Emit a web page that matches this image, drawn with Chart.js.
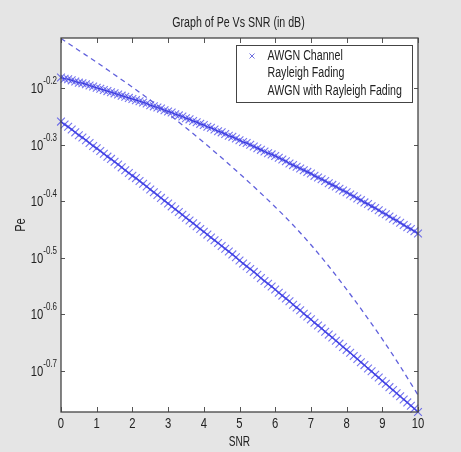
<!DOCTYPE html>
<html>
<head>
<meta charset="utf-8">
<script src="https://cdn.jsdelivr.net/npm/chart.js@4/dist/chart.umd.min.js"></script>
<style>
  html, body { margin: 0; padding: 0; background: #e5e5e5; }
  canvas { display: block; }
</style>
</head>
<body>
<canvas id="chart" width="461" height="452"></canvas>
<script>
// SNR grid of the marker curves (step 0.1)
const snr = [
  0, 0.1, 0.2, 0.3, 0.4, 0.5, 0.6, 0.7, 0.8, 0.9,
  1, 1.1, 1.2, 1.3, 1.4, 1.5, 1.6, 1.7, 1.8, 1.9,
  2, 2.1, 2.2, 2.3, 2.4, 2.5, 2.6, 2.7, 2.8, 2.9,
  3, 3.1, 3.2, 3.3, 3.4, 3.5, 3.6, 3.7, 3.8, 3.9,
  4, 4.1, 4.2, 4.3, 4.4, 4.5, 4.6, 4.7, 4.8, 4.9,
  5, 5.1, 5.2, 5.3, 5.4, 5.5, 5.6, 5.7, 5.8, 5.9,
  6, 6.1, 6.2, 6.3, 6.4, 6.5, 6.6, 6.7, 6.8, 6.9,
  7, 7.1, 7.2, 7.3, 7.4, 7.5, 7.6, 7.7, 7.8, 7.9,
  8, 8.1, 8.2, 8.3, 8.4, 8.5, 8.6, 8.7, 8.8, 8.9,
  9, 9.1, 9.2, 9.3, 9.4, 9.5, 9.6, 9.7, 9.8, 9.9,
  10
];

// log10(Pe), lower marker curve
const awgnExp = [
  -0.259, -0.264, -0.268, -0.273, -0.278, -0.283, -0.287, -0.292, -0.297, -0.302,
  -0.306, -0.311, -0.316, -0.321, -0.325, -0.330, -0.335, -0.340, -0.345, -0.350,
  -0.355, -0.359, -0.364, -0.369, -0.374, -0.379, -0.384, -0.389, -0.394, -0.399,
  -0.404, -0.409, -0.414, -0.419, -0.424, -0.429, -0.434, -0.439, -0.444, -0.449,
  -0.454, -0.459, -0.464, -0.469, -0.474, -0.479, -0.484, -0.489, -0.494, -0.499,
  -0.505, -0.510, -0.515, -0.520, -0.525, -0.530, -0.536, -0.541, -0.546, -0.551,
  -0.556, -0.562, -0.567, -0.572, -0.577, -0.583, -0.588, -0.593, -0.599, -0.604,
  -0.609, -0.615, -0.620, -0.625, -0.631, -0.636, -0.641, -0.647, -0.652, -0.658,
  -0.663, -0.668, -0.674, -0.679, -0.685, -0.690, -0.696, -0.701, -0.707, -0.712,
  -0.718, -0.723, -0.729, -0.734, -0.740, -0.745, -0.751, -0.756, -0.762, -0.767,
  -0.773
];

// log10(Pe), upper marker curve
const awgnRayleighExp = [
  -0.181, -0.183, -0.184, -0.186, -0.188, -0.190, -0.191, -0.193, -0.195, -0.197,
  -0.199, -0.201, -0.203, -0.205, -0.207, -0.209, -0.211, -0.213, -0.215, -0.217,
  -0.219, -0.221, -0.223, -0.225, -0.227, -0.230, -0.232, -0.234, -0.236, -0.239,
  -0.241, -0.243, -0.246, -0.248, -0.250, -0.253, -0.255, -0.258, -0.260, -0.263,
  -0.265, -0.268, -0.270, -0.273, -0.276, -0.278, -0.281, -0.284, -0.286, -0.289,
  -0.292, -0.295, -0.297, -0.300, -0.303, -0.306, -0.309, -0.312, -0.315, -0.317,
  -0.320, -0.323, -0.326, -0.329, -0.333, -0.336, -0.339, -0.342, -0.345, -0.348,
  -0.351, -0.355, -0.358, -0.361, -0.364, -0.368, -0.371, -0.374, -0.378, -0.381,
  -0.384, -0.388, -0.391, -0.395, -0.398, -0.402, -0.405, -0.409, -0.412, -0.416,
  -0.420, -0.423, -0.427, -0.431, -0.434, -0.438, -0.442, -0.446, -0.449, -0.453,
  -0.457
];

// dashed curve, read every 0.5 dB
const snrCoarse = [0, 0.5, 1, 1.5, 2, 2.5, 3, 3.5, 4, 4.5, 5, 5.5, 6, 6.5, 7, 7.5, 8, 8.5, 9, 9.5, 10];
const rayleighExp = [
  -0.112, -0.133, -0.154, -0.176, -0.198, -0.221, -0.245, -0.270, -0.296, -0.323,
  -0.351, -0.380, -0.410, -0.442, -0.477, -0.515, -0.556, -0.599, -0.644, -0.692,
  -0.743
];

const legendLabels = ['AWGN Channel', 'Rayleigh Fading', 'AWGN with Rayleigh Fading'];
const xTicks = [0, 1, 2, 3, 4, 5, 6, 7, 8, 9, 10];
const yTicks = [-0.2, -0.3, -0.4, -0.5, -0.6, -0.7];

const FONT = '"Liberation Sans", Arial, sans-serif';

// narrow text, like the old MATLAB screen fonts
function txt(ctx, s, x, y, size, align, sx, color) {
  ctx.save();
  ctx.font = size + 'px ' + FONT;
  ctx.textBaseline = 'middle';
  ctx.textAlign = 'left';
  ctx.fillStyle = color || '#222';
  const w = ctx.measureText(s).width * sx;
  const x0 = align === 'center' ? x - w / 2 : align === 'right' ? x - w : x;
  ctx.translate(x0, y);
  ctx.scale(sx, 1);
  ctx.fillText(s, 0, 0);
  ctx.restore();
  return w;
}

const pts = (xs, ys) => xs.map((x, i) => ({ x: x, y: ys[i] }));

const frame = {
  id: 'frame',
  beforeDraw(chart) {
    const { ctx, chartArea: a, width, height } = chart;
    ctx.save();
    ctx.fillStyle = '#e5e5e5';
    ctx.fillRect(0, 0, width, height);
    ctx.fillStyle = '#fff';
    ctx.fillRect(a.left, a.top, a.right - a.left, a.bottom - a.top);
    ctx.restore();
  },
  afterDatasetsDraw(chart) {
    const { ctx, chartArea: a, scales } = chart;
    const xs = scales.x, ys = scales.y;
    ctx.save();
    ctx.strokeStyle = '#555';
    ctx.lineWidth = 1;

    // inward ticks on all four sides
    ctx.beginPath();
    xTicks.forEach(t => {
      const px = Math.round(xs.getPixelForValue(t)) + 0.5;
      ctx.moveTo(px, a.bottom); ctx.lineTo(px, a.bottom - 5);
      ctx.moveTo(px, a.top); ctx.lineTo(px, a.top + 5);
    });
    yTicks.forEach(t => {
      const py = Math.round(ys.getPixelForValue(t)) + 0.5;
      ctx.moveTo(a.left, py); ctx.lineTo(a.left + 4, py);
      ctx.moveTo(a.right, py); ctx.lineTo(a.right - 4, py);
    });
    ctx.stroke();

    ctx.strokeStyle = '#444';
    ctx.lineWidth = 1.3;
    ctx.strokeRect(a.left, a.top, a.right - a.left, a.bottom - a.top);

    // tick labels
    xTicks.forEach(t => {
      txt(ctx, String(t), xs.getPixelForValue(t), a.bottom + 12, 15, 'center', 0.75);
    });
    yTicks.forEach(t => {
      const py = ys.getPixelForValue(t);
      const sw = txt(ctx, t.toFixed(1), a.left - 4, py - 7, 10, 'right', 0.8);
      txt(ctx, '10', a.left - 4 - sw, py + 1, 15, 'right', 0.75);
    });

    // titles
    txt(ctx, 'Graph of Pe Vs SNR (in dB)', (a.left + a.right) / 2 - 1, 23, 14, 'center', 0.76);
    txt(ctx, 'SNR', (a.left + a.right) / 2, 442, 14, 'center', 0.72);
    ctx.save();
    ctx.translate(21, (a.top + a.bottom) / 2);
    ctx.rotate(-Math.PI / 2);
    txt(ctx, 'Pe', 0, 0, 14, 'center', 0.8);
    ctx.restore();

    // legend box
    const lx = 236.5, ly = 45.5, lw = 176, lh = 57;
    ctx.fillStyle = '#fff';
    ctx.fillRect(lx, ly, lw, lh);
    ctx.strokeStyle = '#444';
    ctx.lineWidth = 1;
    ctx.strokeRect(lx, ly, lw, lh);
    ctx.strokeStyle = '#7070e0';
    ctx.beginPath();
    ctx.moveTo(249.5, 53.5); ctx.lineTo(254.5, 58.5);
    ctx.moveTo(254.5, 53.5); ctx.lineTo(249.5, 58.5);
    ctx.stroke();
    legendLabels.forEach((s, i) => {
      txt(ctx, s, 267.5, 56 + i * 17.5, 14, 'left', 0.76);
    });
    ctx.restore();
  }
};

const markerSeries = (label, ys) => ({
  label: label,
  data: pts(snr, ys),
  showLine: true,
  borderColor: 'rgba(20,20,205,0.9)',
  borderWidth: 1.2,
  pointStyle: 'crossRot',
  pointRadius: 5.5,
  pointBorderColor: 'rgba(70,70,232,0.75)',
  pointBorderWidth: 1.1,
  tension: 0,
  clip: false
});

new Chart(document.getElementById('chart'), {
  type: 'line',
  data: {
    datasets: [
      markerSeries(legendLabels[0], awgnExp),
      {
        label: legendLabels[1],
        data: pts(snrCoarse, rayleighExp),
        borderColor: '#6060dc',
        borderWidth: 1.3,
        borderDash: [5, 4],
        pointRadius: 0,
        cubicInterpolationMode: 'monotone'
      },
      markerSeries(legendLabels[2], awgnRayleighExp)
    ]
  },
  options: {
    responsive: false,
    animation: false,
    events: [],
    layout: { padding: { left: 61, top: 38, right: 43, bottom: 40 } },
    plugins: {
      legend: { display: false },
      title: { display: false },
      tooltip: { enabled: false }
    },
    scales: {
      x: { type: 'linear', min: 0, max: 10, display: false },
      y: { type: 'linear', min: -0.773, max: -0.111, display: false }
    }
  },
  plugins: [frame]
});
</script>
</body>
</html>
